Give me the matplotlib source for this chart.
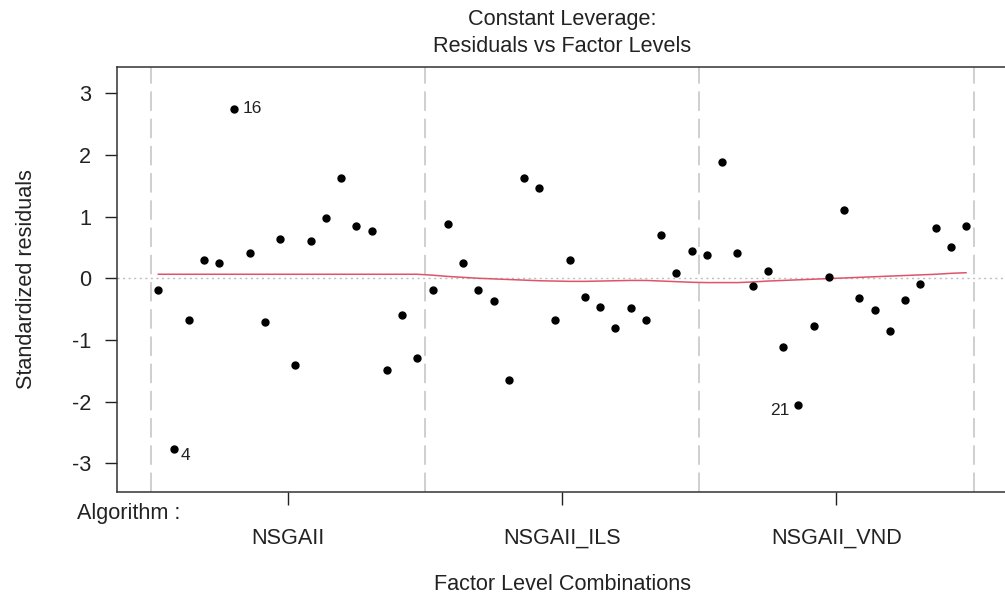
import numpy as np
import matplotlib
matplotlib.use('Agg')
import matplotlib.pyplot as plt

plt.rcParams['font.family'] = ['Liberation Sans', 'DejaVu Sans']
plt.rcParams['axes.unicode_minus'] = False

# standardized residuals, ordered by factor level (18 per level)
resNSGAII = [-0.19, -2.76, -0.67, 0.29, 0.24, 2.75, 0.41, -0.71, 0.63,
             -1.40, 0.61, 0.97, 1.63, 0.84, 0.77, -1.49, -0.60, -1.30]
resNSGAII_ILS = [-0.19, 0.88, 0.24, -0.19, -0.37, -1.65, 1.63, 1.47, -0.67,
                 0.29, -0.30, -0.46, -0.81, -0.49, -0.67, 0.70, 0.09, 0.45]
resNSGAII_VND = [0.38, 1.88, 0.41, -0.12, 0.11, -1.12, -2.05, -0.78, 0.02,
                 1.11, -0.32, -0.51, -0.85, -0.35, -0.10, 0.81, 0.51, 0.85]

# red smoother values at each point
smooth = [0.065] * 18 + [
    0.05, 0.03, 0.015, 0.0, -0.01, -0.02, -0.03, -0.04, -0.045,
    -0.05, -0.05, -0.045, -0.04, -0.035, -0.035, -0.045, -0.055, -0.065,
    -0.07, -0.07, -0.07, -0.06, -0.045, -0.035, -0.025, -0.015, -0.005,
    0.005, 0.015, 0.025, 0.035, 0.045, 0.055, 0.065, 0.08, 0.09]

levels = ['NSGAII', 'NSGAII_ILS', 'NSGAII_VND']
labelledPoints = {2: '4', 6: '16', 43: '21'}

residuals = np.array(resNSGAII + resNSGAII_ILS + resNSGAII_VND)
xpos = np.arange(1, len(residuals) + 1)
nPerLevel = len(resNSGAII)

W, H = 1005, 601
fig = plt.figure(figsize=(W / 100, H / 100), dpi=100)
ax = fig.add_axes([117.3 / W, 1 - 491.7 / H, (1007 - 117.3) / W, (491.7 - 66.7) / H])

ax.set_xlim(-1.69, 56.69)
ax.set_ylim(-3.46, 3.43)

for b in np.arange(0.5, len(residuals) + 1, nPerLevel):
    ax.axvline(b, color='#cfcfcf', lw=1.4, ls=(0, (10, 4)), zorder=1)
ax.axhline(0, color='#bdbdbd', lw=1.0, ls=(0, (1.5, 2.5)), zorder=1)

ax.plot(xpos, smooth, color='#DF536B', lw=1.1, zorder=2)
ax.plot(xpos, residuals, 'o', color='black', ms=5, zorder=3)

offsets = {'4': (5, -5, 'left'), '16': (6, 0, 'left'), '21': (-6.5, -4, 'right')}
for idx, lab in labelledPoints.items():
    dx, dy, ha = offsets[lab]
    ax.annotate(lab, (xpos[idx - 1], residuals[idx - 1]), xytext=(dx, dy),
                textcoords='offset points', ha=ha, va='center', fontsize=12.5,
                color='#222222')

centers = [nPerLevel * i + (nPerLevel + 1) / 2 for i in range(len(levels))]
ax.set_xticks(centers)
ax.set_xticklabels(levels)
ax.set_yticks([-3, -2, -1, 0, 1, 2, 3])
ax.tick_params(axis='both', length=9, width=1, labelsize=15.6, colors='#222222')
ax.tick_params(axis='y', pad=10)
ax.tick_params(axis='x', pad=17)
for s in ax.spines.values():
    s.set_linewidth(1.1)
    s.set_color('#333333')

ax.set_ylabel('Standardized residuals', fontsize=15.6, color='#222222', labelpad=25)
fig.text(562 / W, 1 - 585 / H, 'Factor Level Combinations', ha='center', va='center',
         fontsize=15.6, color='#222222')
fig.text(77 / W, 1 - 513 / H, 'Algorithm :', ha='left', va='center',
         fontsize=15.6, color='#222222')
fig.text(562 / W, 1 - 20 / H, 'Constant Leverage:', ha='center', va='center',
         fontsize=15.6, color='#222222')
fig.text(562 / W, 1 - 46 / H, 'Residuals vs Factor Levels', ha='center', va='center',
         fontsize=15.6, color='#222222')

fig.savefig('out.png', dpi=100, facecolor='white')
